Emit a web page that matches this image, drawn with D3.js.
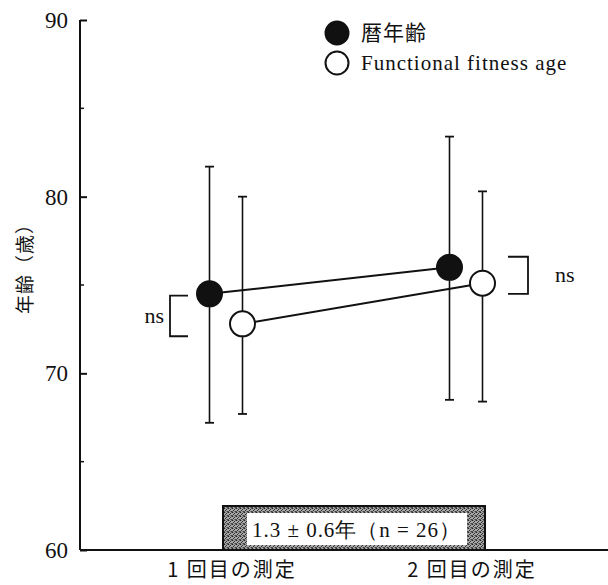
<!DOCTYPE html>
<html>
<head>
<meta charset="utf-8">
<script src="https://cdn.jsdelivr.net/npm/d3@7"></script>
<style>
  html, body { margin: 0; padding: 0; background: #fff; }
  svg { display: block; }
  .latin { font-family: "Liberation Serif", "DejaVu Serif", serif; }
  .cjk { font-family: "Noto Sans CJK JP", "Noto Sans CJK SC", sans-serif; }
</style>
</head>
<body>
<svg id="chart" width="608" height="585"></svg>
<script>
// Measurement occasions
const measurements = ["1 回目の測定", "2 回目の測定"];

// 暦年齢 (chronological age): mean and error-bar ends
const chronoMean  = [74.5, 76.0];
const chronoUpper = [81.7, 83.4];
const chronoLower = [67.2, 68.5];

// Functional fitness age: mean and error-bar ends
const ffaMean  = [72.8, 75.1];
const ffaUpper = [80.0, 80.3];
const ffaLower = [67.7, 68.4];

// Axis ticks
const yMajorTicks = [60, 70, 80, 90];
const yMinorTicks = [65, 75, 85];

// Significance brackets (range between compared means)
const bracketCategory = [0, 1];
const bracketHigh = [74.4, 76.6];
const bracketLow  = [72.1, 74.5];
const bracketLabel = ["ns", "ns"];

const legendLabels = ["暦年齢", "Functional fitness age"];
const noteText = "1.3 ± 0.6年（n = 26）";
const yTitle = "年齢（歳）";

const svg = d3.select("#chart");
const ink = "#111";

const y = d3.scaleLinear().domain([60, 90]).range([550, 20]);
const x = d3.scalePoint().domain(measurements).range([226, 466]);
const axisX = 80;
const seriesOffset = 16.5;

// Y axis with inward ticks
const yAxis = svg.append("g").attr("transform", `translate(${axisX},0)`);
yAxis.call(d3.axisRight(y).tickValues(yMajorTicks).tickSize(7).tickFormat(""));
yAxis.select(".domain").attr("stroke", ink).attr("stroke-width", 2).attr("d", `M0,${y(90)}V${y(60)}`);
yAxis.selectAll(".tick line").attr("stroke", ink).attr("stroke-width", 2);
yAxis.append("g").selectAll("line").data(yMinorTicks).join("line")
  .attr("x1", 0).attr("x2", 4).attr("y1", d => y(d)).attr("y2", d => y(d))
  .attr("stroke", ink).attr("stroke-width", 1.5);

svg.append("g").selectAll("text").data(yMajorTicks).join("text")
  .attr("class", "latin")
  .attr("x", axisX - 12).attr("y", d => y(d) + 8)
  .attr("text-anchor", "end").attr("font-size", 23).attr("fill", ink)
  .text(d => d);

// X baseline
svg.append("line").attr("x1", axisX).attr("x2", 608).attr("y1", y(60)).attr("y2", y(60))
  .attr("stroke", ink).attr("stroke-width", 2);

// X labels
svg.append("g").selectAll("text").data(measurements).join("text")
  .attr("class", "cjk")
  .attr("x", d => x(d) + 6).attr("y", 577)
  .attr("text-anchor", "middle").attr("font-size", 20).attr("letter-spacing", 2)
  .attr("fill", ink).text(d => d);

// Y title
svg.append("text").attr("class", "cjk")
  .attr("transform", `translate(32,264) rotate(-90)`)
  .attr("text-anchor", "middle").attr("font-size", 19).attr("letter-spacing", 1)
  .attr("fill", ink).text(yTitle);

// Series
const series = [
  { mean: chronoMean, upper: chronoUpper, lower: chronoLower, dx: -seriesOffset, fill: ink },
  { mean: ffaMean, upper: ffaUpper, lower: ffaLower, dx: seriesOffset, fill: "#fff" }
];
const px = (s, i) => x(measurements[i]) + s.dx;

series.forEach(s => {
  const g = svg.append("g");
  // error bars
  measurements.forEach((m, i) => {
    const cx = px(s, i);
    g.append("line").attr("x1", cx).attr("x2", cx)
      .attr("y1", y(s.upper[i])).attr("y2", y(s.lower[i]))
      .attr("stroke", ink).attr("stroke-width", 1.6);
    [s.upper[i], s.lower[i]].forEach(v => {
      g.append("line").attr("x1", cx - 4.5).attr("x2", cx + 4.5)
        .attr("y1", y(v)).attr("y2", y(v))
        .attr("stroke", ink).attr("stroke-width", 1.8);
    });
  });
});

// Connecting lines
series.forEach(s => {
  const line = d3.line().x((d, i) => px(s, i)).y(d => y(d));
  svg.append("path").attr("d", line(s.mean))
    .attr("fill", "none").attr("stroke", ink).attr("stroke-width", 2);
});

// Markers
series.forEach(s => {
  svg.append("g").selectAll("circle").data(s.mean).join("circle")
    .attr("cx", (d, i) => px(s, i)).attr("cy", d => y(d)).attr("r", 12.5)
    .attr("fill", s.fill).attr("stroke", ink).attr("stroke-width", 2);
});

// Significance brackets
bracketCategory.forEach((c, k) => {
  const yt = y(bracketHigh[k]), yb = y(bracketLow[k]);
  if (c === 0) {
    const xv = x(measurements[c]) - 56, xe = xv + 18;
    svg.append("path").attr("d", `M${xe},${yt}H${xv}V${yb}H${xe}`)
      .attr("fill", "none").attr("stroke", ink).attr("stroke-width", 1.8);
    svg.append("text").attr("class", "latin")
      .attr("x", xv - 6).attr("y", (yt + yb) / 2 + 7)
      .attr("text-anchor", "end").attr("font-size", 22).attr("fill", ink)
      .text(bracketLabel[k]);
  } else {
    const xv = x(measurements[c]) + 62, xs = xv - 20;
    svg.append("path").attr("d", `M${xs},${yt}H${xv}V${yb}H${xs}`)
      .attr("fill", "none").attr("stroke", ink).attr("stroke-width", 1.8);
    svg.append("text").attr("class", "latin")
      .attr("x", xv + 27).attr("y", (yt + yb) / 2 + 7)
      .attr("text-anchor", "start").attr("font-size", 22).attr("fill", ink)
      .text(bracketLabel[k]);
  }
});

// Legend
const legend = svg.append("g");
legendLabels.forEach((lab, i) => {
  const cy = 33 + i * 30;
  legend.append("circle").attr("cx", 337).attr("cy", cy).attr("r", 11.5)
    .attr("fill", series[i].fill).attr("stroke", ink).attr("stroke-width", 2);
  legend.append("text").attr("class", i === 0 ? "cjk" : "latin")
    .attr("x", 361).attr("y", cy + 7)
    .attr("font-size", 21).attr("letter-spacing", 1)
    .attr("fill", ink).text(lab);
});

// Note box with stippled frame
const defs = svg.append("defs");
const pat = defs.append("pattern").attr("id", "stipple")
  .attr("width", 4).attr("height", 4).attr("patternUnits", "userSpaceOnUse");
pat.append("rect").attr("width", 4).attr("height", 4).attr("fill", "#a8a8a8");
[[0, 0, "#222"], [2, 1, "#333"], [1, 2, "#2a2a2a"], [3, 3, "#444"], [3, 0, "#666"], [0, 3, "#555"], [2, 3, "#777"], [1, 0, "#888"]]
  .forEach(([px0, py0, c]) => {
    pat.append("rect").attr("x", px0).attr("y", py0).attr("width", 1).attr("height", 1).attr("fill", c);
  });

svg.append("rect").attr("x", 223).attr("y", 506).attr("width", 262).attr("height", 44)
  .attr("fill", "url(#stipple)").attr("stroke", ink).attr("stroke-width", 2);
svg.append("rect").attr("x", 247).attr("y", 513).attr("width", 220).attr("height", 32)
  .attr("fill", "#fff");
svg.append("text").attr("class", "latin")
  .attr("x", 252).attr("y", 537)
  .attr("font-size", 21).attr("textLength", 208).attr("lengthAdjust", "spacing")
  .attr("fill", ink).text(noteText);
</script>
</body>
</html>
